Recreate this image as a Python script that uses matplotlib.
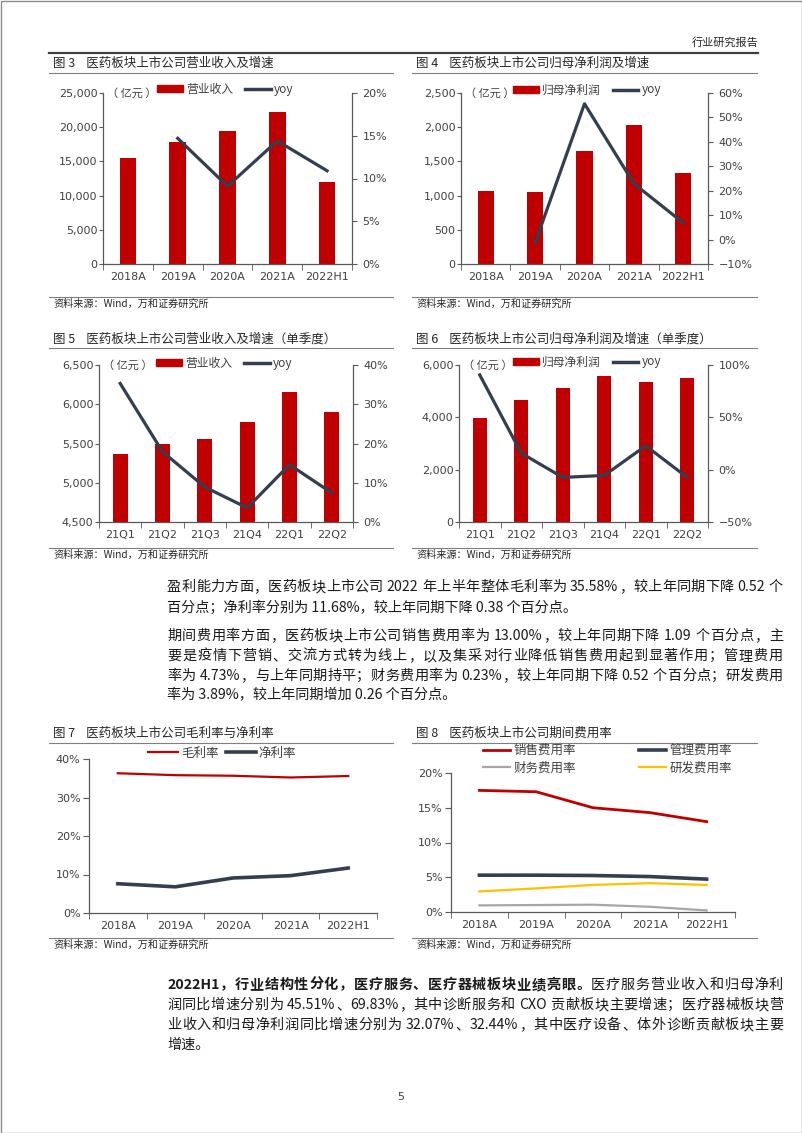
import matplotlib
matplotlib.use('Agg')
import matplotlib.pyplot as plt
import numpy as np
import re
from matplotlib.patches import Patch, Rectangle
from matplotlib.lines import Line2D

# fonts: Chinese text in Noto, numbers in DejaVu for the chart ticks
CN = ['Noto Sans CJK SC', 'DejaVu Sans']
NUM = ['DejaVu Sans', 'Noto Sans CJK SC']
plt.rcParams['font.family'] = CN

# ---- data ----
years = ['2018A', '2019A', '2020A', '2021A', '2022H1']
quarters = ['21Q1', '21Q2', '21Q3', '21Q4', '22Q1', '22Q2']

revenue = [15500, 17850, 19500, 22280, 12060]
revenue_yoy = [None, 14.7, 9.1, 14.4, 10.9]
profit = [1072, 1053, 1652, 2027, 1330]
profit_yoy = [None, -1.4, 55.6, 22.9, 6.8]

q_revenue = [5364, 5496, 5555, 5772, 6151, 5896]
q_revenue_yoy = [35.3, 17.9, 8.9, 3.6, 14.6, 7.4]
q_profit = [3966, 4653, 5110, 5593, 5352, 5492]
q_profit_yoy = [90.5, 15.8, -7.4, -5.5, 22.8, -7.4]

gross_margin = [36.3, 35.8, 35.65, 35.2, 35.58]
net_margin = [7.6, 6.8, 9.1, 9.7, 11.68]

sales_rate = [17.5, 17.3, 15.0, 14.3, 13.0]
admin_rate = [5.3, 5.3, 5.25, 5.1, 4.73]
fin_rate = [0.95, 1.0, 1.05, 0.75, 0.23]
rd_rate = [2.96, 3.4, 3.9, 4.15, 3.89]

RED = '#C00000'
DARK = '#333F4F'
GREY = '#A6A6A6'
YELLOW = '#FFC000'
AXC = '#595959'
TXT = '#404040'

W, H = 802, 1133
fig = plt.figure(figsize=(W / 100, H / 100), dpi=100)

# overlay axes in pixel coordinates for page text and rules
page = fig.add_axes([0, 0, 1, 1])
page.set_xlim(0, W)
page.set_ylim(H, 0)
page.axis('off')
renderer = fig.canvas.get_renderer()


def box(x0, y0, x1, y1):
    return [x0 / W, 1 - y1 / H, (x1 - x0) / W, (y1 - y0) / H]


def fxy(x, y):
    return (x / W, 1 - y / H)


def pct(v):
    s = f'{abs(v):.0f}%'
    return ('\u2212' + s) if v < 0 else s


def frame(x0, x1, y_title, y_rule, y_src, title):
    page.text(x0 + 4, y_title, title, fontsize=9, color='#262626', va='center', ha='left')
    page.plot([x0, x1], [y_rule, y_rule], color='#7F7F7F', lw=0.8)
    page.plot([x0, x1], [y_src, y_src], color='#7F7F7F', lw=0.8)
    page.text(x0 + 4, y_src + 7, '资料来源：Wind，万和证券研究所', fontsize=7.3, color='#262626',
              va='center', ha='left')


def style_x(ax, cats):
    n = len(cats)
    ax.set_xlim(-0.5, n - 0.5)
    ax.set_xticks(np.arange(n))
    ax.set_xticklabels(cats, family=NUM, fontsize=8, color=TXT)
    ax.set_xticks(np.arange(n + 1) - 0.5, minor=True)
    ax.tick_params(axis='x', which='major', length=0, pad=6)
    ax.tick_params(axis='x', which='minor', length=4, color=AXC, direction='out')
    ax.spines['top'].set_visible(False)
    for s in ['left', 'bottom', 'right']:
        ax.spines[s].set_color(AXC)
        ax.spines[s].set_linewidth(0.9)


def bar_chart(rect, cats, vals, yoy, ylim, yticks, y2lim, y2ticks, name, width, leg_xy):
    ax = fig.add_axes(box(*rect))
    x = np.arange(len(cats))
    ax.bar(x, vals, width=width, color=RED, zorder=2)
    style_x(ax, cats)
    ax.set_ylim(*ylim)
    ax.set_yticks(yticks)
    ax.set_yticklabels([f'{v:,}' for v in yticks], family=NUM, fontsize=8, color=TXT)
    ax.tick_params(axis='y', length=3, pad=1, color=AXC)
    ax.spines['right'].set_visible(False)
    ax.text(0.015, 1.0, '（ 亿元 ）', transform=ax.transAxes, fontsize=8, color=TXT,
            va='center', ha='left')

    ax2 = ax.twinx()
    xs = [i for i, v in enumerate(yoy) if v is not None]
    ax2.plot(xs, [yoy[i] for i in xs], color=DARK, lw=2.3, zorder=3)
    ax2.set_ylim(*y2lim)
    ax2.set_yticks(y2ticks)
    ax2.set_yticklabels([pct(v) for v in y2ticks], family=NUM, fontsize=8, color=TXT)
    ax2.tick_params(axis='y', length=3.5, pad=4, color=AXC)
    ax2.spines['top'].set_visible(False)
    ax2.spines['left'].set_visible(False)
    ax2.spines['bottom'].set_visible(False)
    ax2.spines['right'].set_color(AXC)
    ax2.spines['right'].set_linewidth(0.9)

    handles = [Patch(color=RED, label=name), Line2D([0], [0], color=DARK, lw=2.5, label='yoy')]
    ax2.legend(handles=handles, ncol=2, loc='center', bbox_to_anchor=fxy(*leg_xy),
               bbox_transform=fig.transFigure, frameon=False, fontsize=8.5,
               handlelength=2.2, handleheight=0.55, handletextpad=0.25, columnspacing=1.0,
               borderpad=0, labelcolor=TXT)
    return ax


def text_width(s, **kw):
    t = page.text(0, 0, s, **kw)
    w = t.get_window_extent(renderer).width
    t.remove()
    return w


def tokens(s):
    # latin runs (numbers, words) stay together, every other char is its own token
    return re.findall(r'[A-Za-z0-9.%]+|.', s)


def justified(x0, x1, y, parts):
    # parts: list of (string, style kwargs); spreads tokens evenly between x0 and x1
    toks = [(t, kw) for s, kw in parts for t in tokens(s)]
    widths = [text_width(t, **kw) for t, kw in toks]
    gap = (x1 - x0 - sum(widths)) / (len(toks) - 1)
    x = x0
    for (t, kw), w in zip(toks, widths):
        if t != ' ':
            page.text(x, y, t, ha='left', va='center', **kw)
        x += w + gap


# ---- header ----
page.add_patch(Rectangle((0.5, 0.5), W - 1, H - 1, fill=False, ec='#8C8C8C', lw=1))
page.text(758, 42, '行业研究报告', fontsize=8, color='#262626', ha='right', va='center')
page.plot([49, 758], [53, 53], color='#404040', lw=1.6)

# ---- figure 3 / 4 ----
frame(49, 393, 63, 73, 297, '图 3    医药板块上市公司营业收入及增速')
frame(412, 757, 63, 73, 297, '图 4    医药板块上市公司归母净利润及增速')

bar_chart((103, 93, 352, 264), years, revenue, revenue_yoy, (0, 25000),
          [0, 5000, 10000, 15000, 20000, 25000], (0, 20), [0, 5, 10, 15, 20],
          '营业收入', 0.33, (225, 89))
bar_chart((461, 93, 708, 264), years, profit, profit_yoy, (0, 2500),
          [0, 500, 1000, 1500, 2000, 2500], (-10, 60), [-10, 0, 10, 20, 30, 40, 50, 60],
          '归母净利润', 0.33, (587, 90))

# ---- figure 5 / 6 ----
frame(49, 393, 339, 348, 548, '图 5    医药板块上市公司营业收入及增速（单季度）')
frame(412, 757, 339, 348, 548, '图 6    医药板块上市公司归母净利润及增速（单季度）')

bar_chart((99, 365, 353, 522), quarters, q_revenue, q_revenue_yoy, (4500, 6500),
          [4500, 5000, 5500, 6000, 6500], (0, 40), [0, 10, 20, 30, 40],
          '营业收入', 0.35, (224, 363))
bar_chart((459, 365, 708, 522), quarters, q_profit, q_profit_yoy, (0, 6000),
          [0, 2000, 4000, 6000], (-50, 100), [-50, 0, 50, 100],
          '归母净利润', 0.34, (587, 362))

# ---- body text ----
TX0, TX1 = 167, 783
body = dict(fontsize=10.2, color='#1A1A1A')
bold = dict(body, fontweight='bold')
full_lines = [
    (587, '盈利能力方面，医药板块上市公司 2022 年上半年整体毛利率为 35.58%，较上年同期下降 0.52 个'),
    (636, '期间费用率方面，医药板块上市公司销售费用率为 13.00%，较上年同期下降 1.09 个百分点，主'),
    (656, '要是疫情下营销、交流方式转为线上，以及集采对行业降低销售费用起到显著作用；管理费用'),
    (676, '率为 4.73%，与上年同期持平；财务费用率为 0.23%，较上年同期下降 0.52 个百分点；研发费用'),
    (1005, '润同比增速分别为 45.51%、69.83%，其中诊断服务和 CXO 贡献板块主要增速；医疗器械板块营'),
    (1025, '业收入和归母净利润同比增速分别为 32.07%、32.44%，其中医疗设备、体外诊断贡献板块主要'),
]
last_lines = [
    (608, '百分点；净利率分别为 11.68%，较上年同期下降 0.38 个百分点。'),
    (695, '率为 3.89%，较上年同期增加 0.26 个百分点。'),
    (1045, '增速。'),
]
for y, s in full_lines:
    justified(TX0, TX1, y, [(s, body)])
for y, s in last_lines:
    page.text(TX0, y, s, ha='left', va='center', **body)

# first line of the last paragraph: bold lead-in, then plain text
justified(TX0, TX1, 985, [('2022H1，行业结构性分化，医疗服务、医疗器械板块业绩亮眼。', bold),
                          ('医疗服务营业收入和归母净利', body)])

# ---- figure 7 ----
frame(49, 393, 733, 743, 938, '图 7    医药板块上市公司毛利率与净利率')
ax7 = fig.add_axes(box(89, 759, 377, 913))
x = np.arange(len(years))
ax7.plot(x, gross_margin, color=RED, lw=1.6, label='毛利率')
ax7.plot(x, net_margin, color=DARK, lw=2.6, label='净利率')
style_x(ax7, years)
ax7.spines['right'].set_visible(False)
ax7.set_ylim(0, 40)
ax7.set_yticks([0, 10, 20, 30, 40])
ax7.set_yticklabels([pct(v) for v in [0, 10, 20, 30, 40]], family=NUM, fontsize=8, color=TXT)
ax7.tick_params(axis='y', length=4, pad=2, color=AXC)
ax7.legend(ncol=2, loc='center', bbox_to_anchor=fxy(222, 753), bbox_transform=fig.transFigure,
           frameon=False, fontsize=9, handlelength=2.4, handletextpad=0.2, columnspacing=0.6,
           borderpad=0, labelcolor=TXT)

# ---- figure 8 ----
frame(412, 757, 733, 743, 938, '图 8    医药板块上市公司期间费用率')
ax8 = fig.add_axes(box(451, 773, 735, 912))
ax8.plot(x, sales_rate, color=RED, lw=2.0, label='销售费用率')
ax8.plot(x, fin_rate, color=GREY, lw=1.6, label='财务费用率')
ax8.plot(x, admin_rate, color=DARK, lw=2.6, label='管理费用率')
ax8.plot(x, rd_rate, color=YELLOW, lw=1.6, label='研发费用率')
style_x(ax8, years)
ax8.spines['right'].set_visible(False)
ax8.set_ylim(0, 20)
ax8.set_yticks([0, 5, 10, 15, 20])
ax8.set_yticklabels([pct(v) for v in [0, 5, 10, 15, 20]], family=NUM, fontsize=8, color=TXT)
ax8.tick_params(axis='y', length=4, pad=2, color=AXC)
ax8.legend(ncol=2, loc='upper left', bbox_to_anchor=fxy(483, 744), bbox_transform=fig.transFigure,
           frameon=False, fontsize=9, handlelength=2.2, handletextpad=0.25, columnspacing=5.0,
           borderpad=0, borderaxespad=0, labelspacing=0.35, labelcolor=TXT)

# ---- page number ----
page.text(401, 1097, '5', fontsize=8, color='#404040', ha='center', va='center', family=NUM)

fig.savefig('out.png', dpi=100)
